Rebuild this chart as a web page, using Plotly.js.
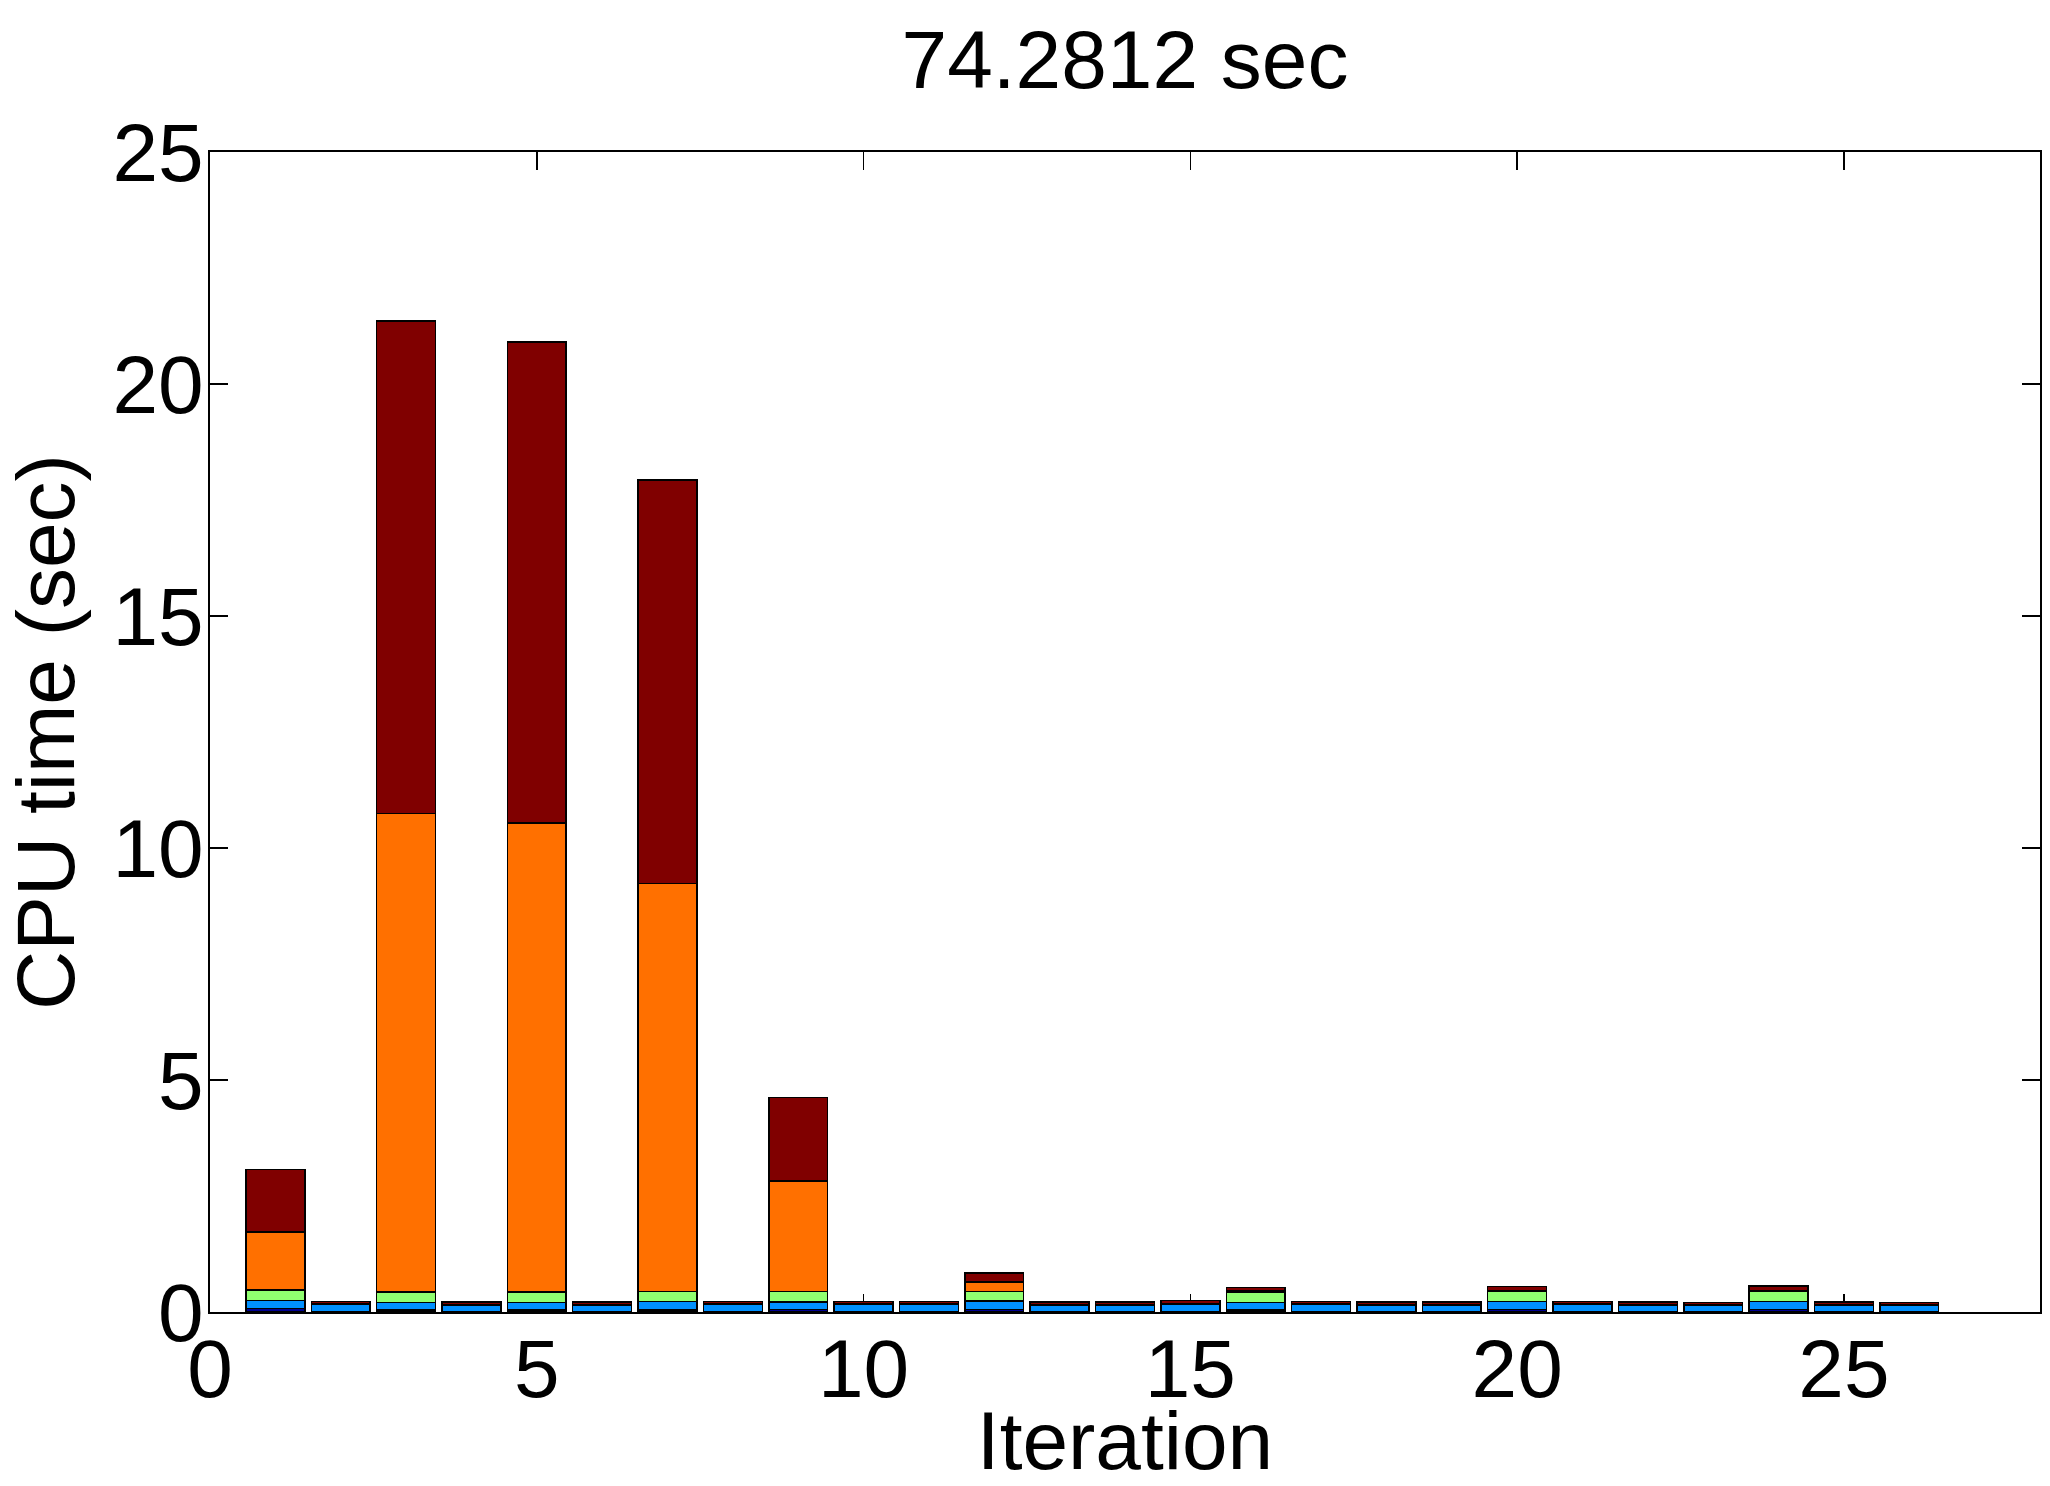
<!DOCTYPE html>
<html>
<head>
<meta charset="utf-8">
<script src="https://cdn.plot.ly/plotly-3.0.1.min.js"></script>
<style>html,body{margin:0;padding:0;background:#fff;}#chart{width:2050px;height:1486px;}</style>
</head>
<body>
<div id="chart"></div>
<script>
var iterations = [1,2,3,4,5,6,7,8,9,10,11,12,13,14,15,16,17,18,19,20,21,22,23,24,25,26];
var seriesNavy   = [0.08,0.01,0.04,0.01,0.04,0.01,0.04,0.01,0.05,0.01,0.01,0.05,0.01,0.01,0.01,0.04,0.01,0.01,0.01,0.05,0.01,0.01,0.01,0.05,0.01,0.01];
var seriesBlue   = [0.17,0.15,0.17,0.14,0.17,0.14,0.19,0.15,0.17,0.15,0.15,0.19,0.14,0.14,0.16,0.17,0.15,0.14,0.14,0.18,0.15,0.14,0.14,0.18,0.14,0.14];
var seriesGreen  = [0.22,0.005,0.22,0.005,0.22,0.005,0.21,0.005,0.22,0.005,0.005,0.20,0.005,0.005,0.005,0.22,0.005,0.005,0.005,0.21,0.005,0.005,0.005,0.22,0.005,0.005];
var seriesOrange = [1.25,0.005,10.31,0.005,10.11,0.005,8.80,0.005,2.38,0.005,0.005,0.21,0.005,0.005,0.005,0.03,0.005,0.005,0.005,0.01,0.005,0.005,0.005,0.01,0.005,0.005];
var seriesMaroon = [1.35,0.06,10.62,0.06,10.37,0.06,8.69,0.06,1.80,0.06,0.06,0.19,0.06,0.06,0.07,0.07,0.06,0.06,0.06,0.10,0.06,0.06,0.05,0.10,0.06,0.05];
var seriesNames  = ["1","2","3","4","5"];
var seriesColors = ["#000090","#0090ff","#90ff70","#ff7000","#800000"];
var xTicks = [0,5,10,15,20,25];
var yTicks = [0,5,10,15,20,25];

var allSeries = [seriesNavy, seriesBlue, seriesGreen, seriesOrange, seriesMaroon];
var traces = allSeries.map(function(vals, i){
  return {
    type: 'bar', x: iterations, y: vals, name: seriesNames[i], width: 0.9,
    marker: {color: seriesColors[i], line: {color: '#000', width: 1.5}},
    hoverinfo: 'x+y'
  };
});
var fontFam = 'Liberation Sans, Arial, Helvetica, sans-serif';
var layout = {
  width: 2050, height: 1486,
  paper_bgcolor: '#fff', plot_bgcolor: '#fff',
  barmode: 'stack', bargap: 0,
  showlegend: false,
  margin: {l: 210, r: 10, t: 152, b: 174},
  font: {family: fontFam, size: 82, color: '#000'},
  title: {text: '74.2812 sec', font: {family: fontFam, size: 82, color: '#000'},
          xref: 'paper', x: 0.5, xanchor: 'center', yref: 'container', y: 0.96, yanchor: 'middle'},
  xaxis: {
    range: [0, 28], tickvals: xTicks, ticktext: xTicks.map(String),
    showline: true, linecolor: '#000', linewidth: 2, mirror: 'ticks',
    ticks: 'inside', ticklen: 18, tickwidth: 1.5, tickcolor: '#000',
    showgrid: false, zeroline: false, layer: 'below traces',
    ticklabelstandoff: -15,
    tickfont: {family: fontFam, size: 82, color: '#000'},
    title: {text: 'Iteration', font: {family: fontFam, size: 82, color: '#000'}, standoff: 10}
  },
  yaxis: {
    range: [0, 25], tickvals: yTicks, ticktext: yTicks.map(String),
    showline: true, linecolor: '#000', linewidth: 2, mirror: 'ticks',
    ticks: 'inside', ticklen: 18, tickwidth: 1.5, tickcolor: '#000',
    showgrid: false, zeroline: false, layer: 'below traces',
    ticklabelstandoff: -12,
    tickfont: {family: fontFam, size: 82, color: '#000'},
    title: {text: 'CPU time (sec)', font: {family: fontFam, size: 82, color: '#000'}, standoff: 28}
  }
};
Plotly.newPlot('chart', traces, layout, {displayModeBar: false, staticPlot: true});
</script>
</body>
</html>
